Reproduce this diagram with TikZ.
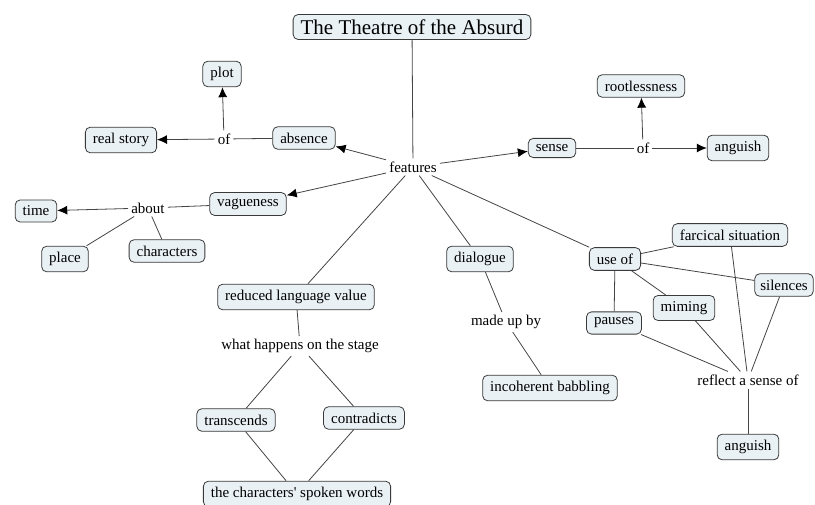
\documentclass[tikz,border=0pt]{standalone}
\usepackage{fontspec}
\newfontfamily\mapfont{Liberation Serif}
\usetikzlibrary{arrows.meta}
\definecolor{boxfill}{HTML}{E9F1F5}
\definecolor{boxline}{HTML}{3A3A3A}
\definecolor{linkline}{HTML}{444444}
\begin{document}
\begin{tikzpicture}[x=1pt, y=-1pt,
  concept/.style={draw=boxline, fill=boxfill, rounded corners=5pt, line width=0.8pt,
    inner xsep=7.5pt, inner ysep=6pt, font=\mapfont\fontsize{15}{17}\selectfont},
  linkword/.style={inner sep=3pt, font=\mapfont\fontsize{15}{17}\selectfont},
  link/.style={draw=linkline, line width=0.8pt},
  arrowlink/.style={link, -{Latex[length=10pt,width=9pt,color=black]}}]
\useasboundingbox (0,0) rectangle (815,505);
% concepts
\node [concept, inner ysep=5pt, font=\mapfont\fontsize{21}{23}\selectfont] (title) at (412,27) {The Theatre of the Absurd};
\node [linkword] (features) at (413,167) {features};
\node [concept] (plot) at (222,74) {plot};
\node [concept] (realstory) at (121,140) {real story};
\node [linkword] (ofabs) at (224,139) {of};
\node [concept] (absence) at (304,138) {absence};
\node [concept] (vagueness) at (248,204) {vagueness};
\node [linkword] (about) at (148,208) {about};
\node [concept] (time) at (36,211) {time};
\node [concept] (place) at (65,259) {place};
\node [concept] (characters) at (167,251) {characters};
\node [concept] (sense) at (552,148) {sense};
\node [linkword] (ofsense) at (643,148) {of};
\node [concept] (rootless) at (641,86) {rootlessness};
\node [concept] (anguishtop) at (738,148) {anguish};
\node [concept] (reduced) at (296,297) {reduced language value};
\node [linkword] (happens) at (300,346) {what happens on the stage};
\node [concept] (transcends) at (236,420) {transcends};
\node [concept] (contradicts) at (364,418) {contradicts};
\node [concept] (spoken) at (297,494) {the characters\textquotesingle\ spoken words};
\node [concept] (dialogue) at (480,259) {dialogue};
\node [linkword] (madeup) at (506,322) {made up by};
\node [concept] (babbling) at (550,388) {incoherent babbling};
\node [concept] (useof) at (615,259) {use of};
\node [concept] (farcical) at (730,235) {farcical situation};
\node [concept, inner xsep=5.5pt] (silences) at (784,285) {silences};
\node [concept] (miming) at (684,308) {miming};
\node [concept] (pauses) at (614,323) {pauses};
\node [linkword] (reflect) at (748,380) {reflect a sense of};
\node [concept] (anguishlow) at (748,447) {anguish};
% links from features
\draw [link] (title) -- (features);
\draw [arrowlink] (features) -- (absence);
\draw [arrowlink] (features) -- (vagueness);
\draw [arrowlink] (features) -- (sense);
\draw [link] (features) -- (reduced);
\draw [link] (features) -- (dialogue);
\draw [link] (features) -- (useof);
% absence
\draw [link] (absence) -- (ofabs);
\draw [arrowlink] (ofabs) -- (realstory);
\draw [arrowlink] (ofabs) -- (plot);
% vagueness
\draw [link] (vagueness) -- (about);
\draw [arrowlink] (about) -- (time);
\draw [link] (about) -- (place);
\draw [link] (about) -- (characters);
% sense
\draw [link] (sense) -- (ofsense);
\draw [arrowlink] (ofsense) -- (anguishtop);
\draw [arrowlink] (ofsense) -- (rootless);
% reduced language value
\draw [link] (reduced) -- (happens);
\draw [link] (happens) -- (transcends);
\draw [link] (happens) -- (contradicts);
\draw [link] (transcends) -- (spoken);
\draw [link] (contradicts) -- (spoken);
% dialogue
\draw [link] (dialogue) -- (madeup);
\draw [link] (madeup) -- (babbling);
% use of
\draw [link] (useof) -- (farcical);
\draw [link] (useof) -- (silences);
\draw [link] (useof) -- (miming);
\draw [link] (useof) -- (pauses);
\draw [link] (pauses) -- (reflect);
\draw [link] (miming) -- (reflect);
\draw [link] (farcical) -- (reflect);
\draw [link] (silences) -- (reflect);
\draw [link] (reflect) -- (anguishlow);
\end{tikzpicture}
\end{document}
